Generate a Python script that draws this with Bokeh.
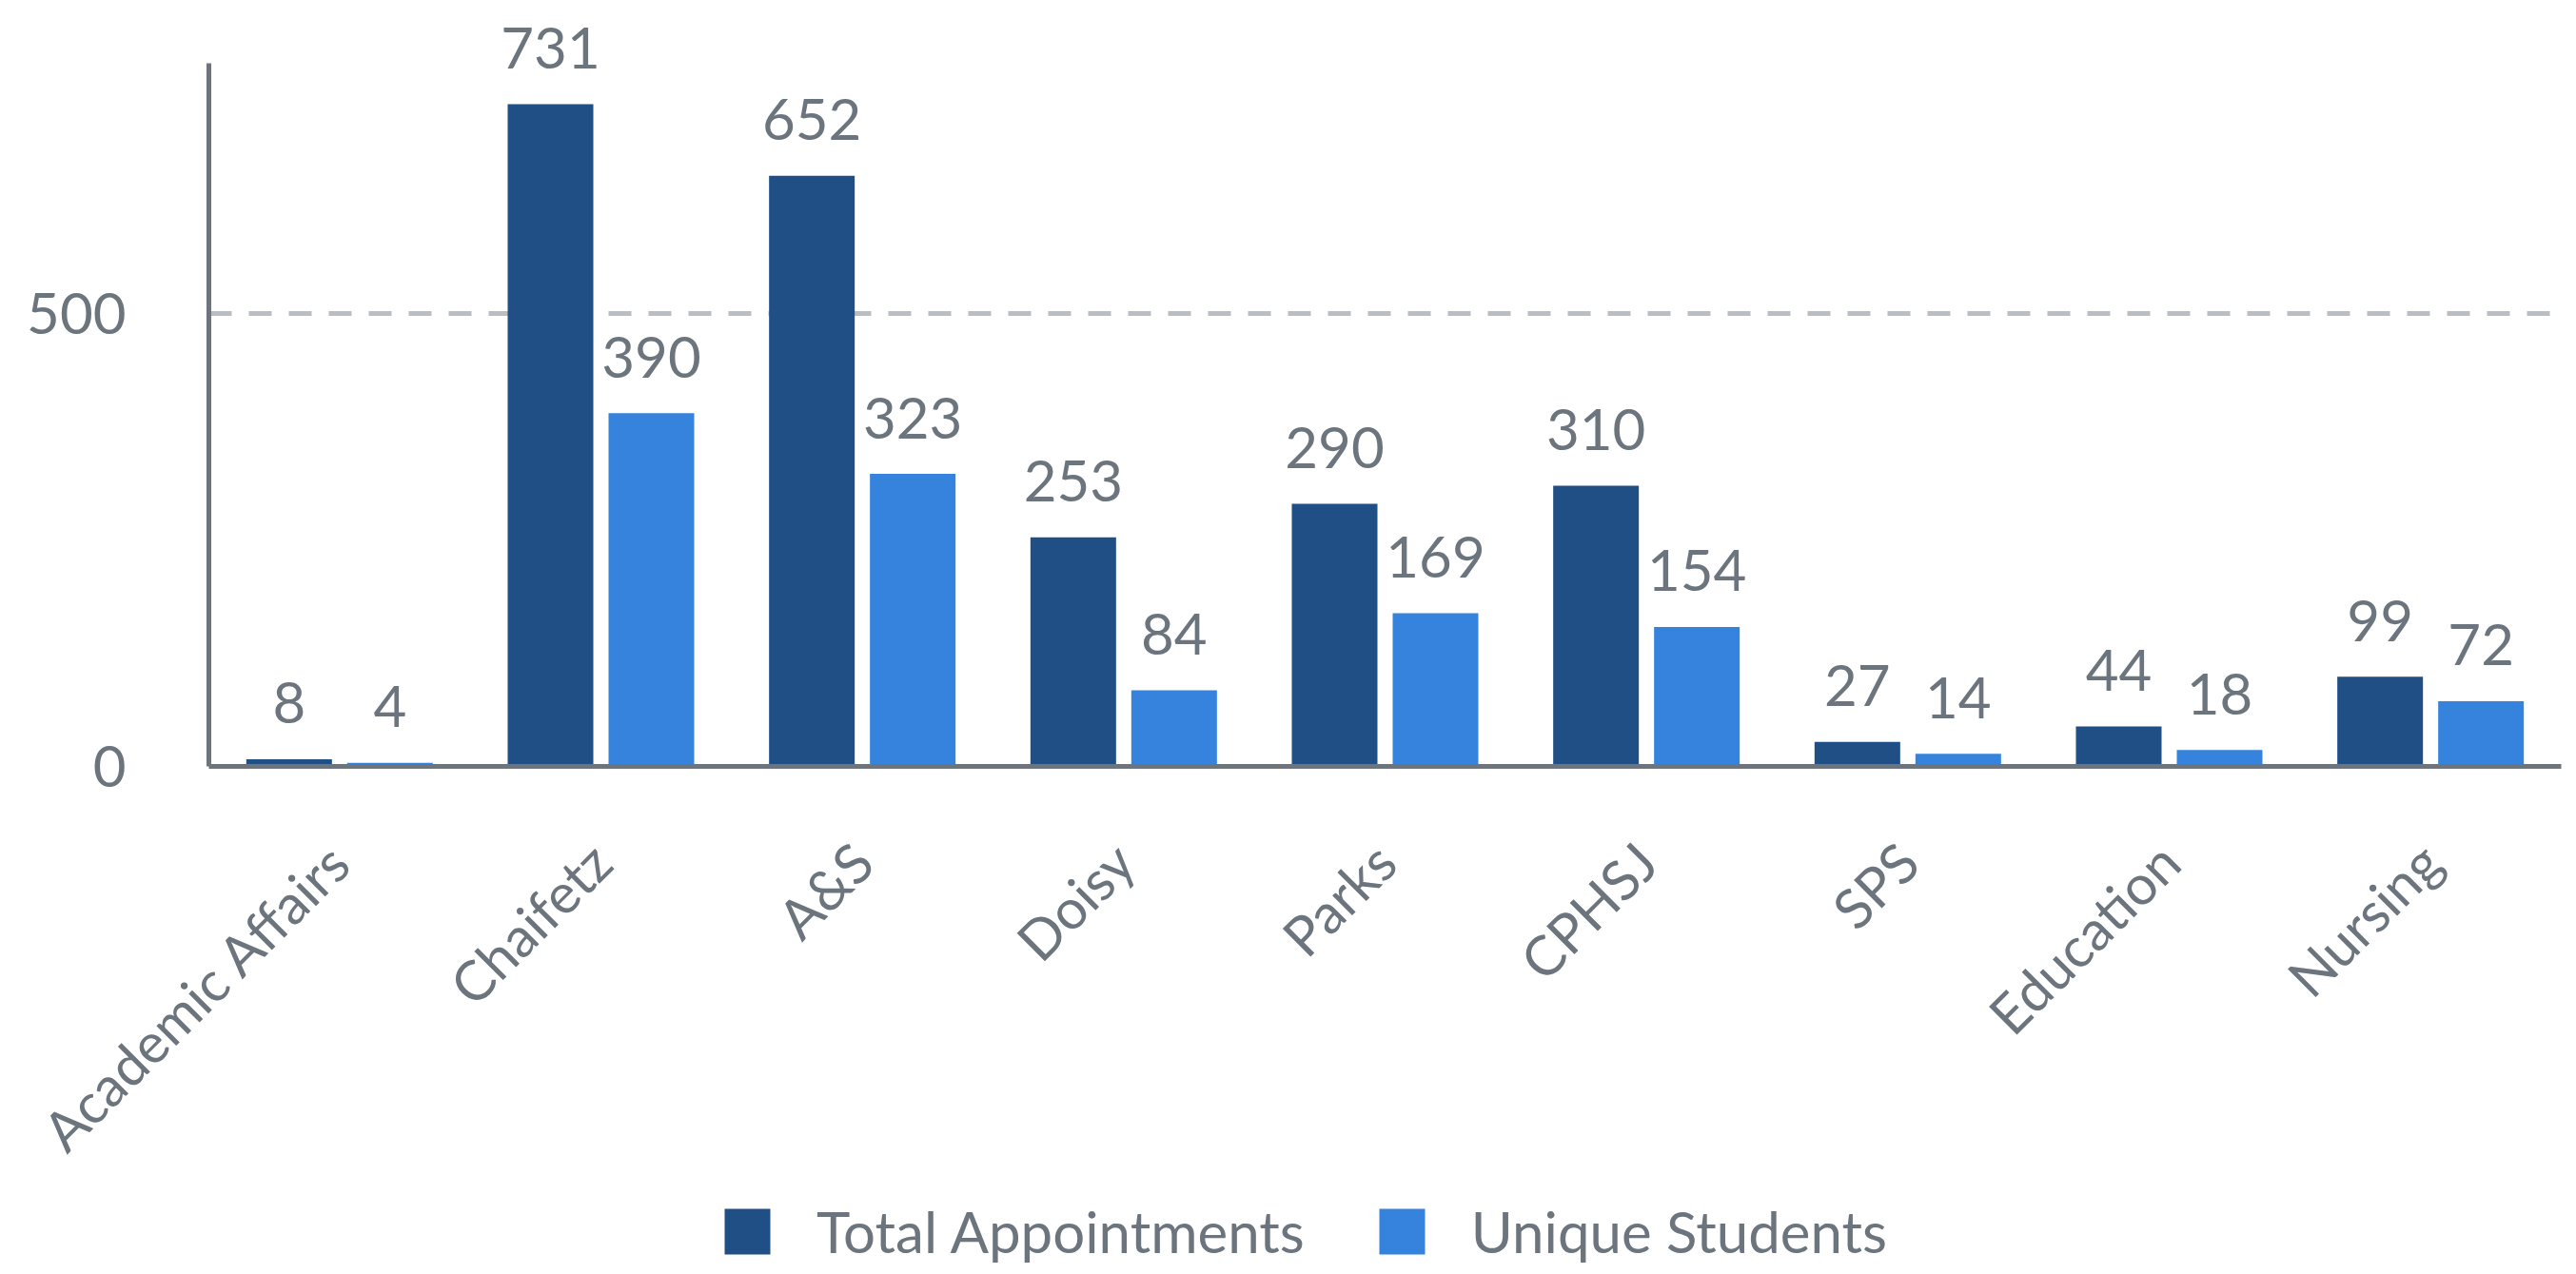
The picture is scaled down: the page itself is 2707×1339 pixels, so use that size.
import math
from bokeh.plotting import figure
from bokeh.models import (ColumnDataSource, Range1d, FixedTicker,
                          Legend, LegendItem)
from bokeh.core.properties import value
from bokeh.embed import file_html
from bokeh.resources import INLINE

categories = ["Academic Affairs", "Chaifetz", "A&S", "Doisy", "Parks",
              "CPHSJ", "SPS", "Education", "Nursing"]
total_appointments = [8, 731, 652, 253, 290, 310, 27, 44, 99]
unique_students = [4, 390, 323, 84, 169, 154, 14, 18, 72]
y_ticks = [0, 500]
grid_ticks = [500]

FONT = "Lato"
FS = "60px"
TEXT_COLOR = "#6c757d"
DARK = "#1f4f85"
LIGHT = "#3683de"

W, H = 2707, 1339
left_px, right_px = 219, 2691
top_px, zero_px = 0, 805
n = len(categories)
cat_px = (right_px - left_px) / n
offset = 53 / cat_px
bar_w = 90 / cat_px
px_per_unit = 0.952
axis_top_val = (zero_px - 66) / px_per_unit

centers = [i + 0.5 for i in range(n)]
source = ColumnDataSource(dict(
    xc=centers,
    xd=[c - offset for c in centers],
    xl=[c + offset for c in centers],
    total=total_appointments,
    unique=unique_students,
    total_lbl=[str(v) for v in total_appointments],
    unique_lbl=[str(v) for v in unique_students],
))

p = figure(
    x_range=Range1d(-left_px / cat_px, n + (W - right_px) / cat_px),
    y_range=Range1d(-(H - zero_px) / px_per_unit, (zero_px - top_px) / px_per_unit),
    width=W, height=H, frame_width=W, frame_height=H,
    min_border=0,
    output_backend="svg", toolbar_location=None,
)
p.outline_line_color = None
p.background_fill_color = "white"
p.border_fill_color = "white"
p.xgrid.grid_line_color = None
p.ygrid.grid_line_color = None

# dashed reference line at 500, limited to the plotting area
p.segment(x0=0, x1=n, y0=grid_ticks, y1=grid_ticks, line_color="#b9bec4",
          line_width=5, line_dash="24 18")

r1 = p.vbar(x="xd", top="total", width=bar_w, source=source,
            fill_color=DARK, line_color=None)
r2 = p.vbar(x="xl", top="unique", width=bar_w, source=source,
            fill_color=LIGHT, line_color=None)

for xcol, col, lbl in (("xd", "total", "total_lbl"), ("xl", "unique", "unique_lbl")):
    p.text(x=xcol, y=col, text=lbl, source=source,
           text_align="center", text_baseline="alphabetic", y_offset=-59,
           text_font=value(FONT), text_font_size=FS, text_color=TEXT_COLOR)

# y axis
p.yaxis.fixed_location = 0
p.yaxis.ticker = FixedTicker(ticks=y_ticks)
p.yaxis.bounds = (0, axis_top_val)
p.yaxis.axis_line_color = TEXT_COLOR
p.yaxis.axis_line_width = 5
p.yaxis.major_tick_line_color = None
p.yaxis.minor_tick_line_color = None
p.yaxis.major_tick_out = 0
p.yaxis.major_tick_in = 0
p.yaxis.major_label_standoff = 87
p.yaxis.major_label_text_font = FONT
p.yaxis.major_label_text_font_size = FS
p.yaxis.major_label_text_color = TEXT_COLOR

# x axis, pinned at zero
p.xaxis.fixed_location = 0
p.xaxis.bounds = (0, n)
p.xaxis.ticker = FixedTicker(ticks=centers)
p.xaxis.major_label_overrides = {c: name for c, name in zip(centers, categories)}
p.xaxis.axis_line_color = TEXT_COLOR
p.xaxis.axis_line_width = 5
p.xaxis.major_tick_line_color = None
p.xaxis.minor_tick_line_color = None
p.xaxis.major_tick_out = 0
p.xaxis.major_tick_in = 0
p.xaxis.major_label_orientation = math.pi / 4
p.xaxis.major_label_standoff = 90
p.xaxis.major_label_text_font = FONT
p.xaxis.major_label_text_font_size = "58px"
p.xaxis.major_label_text_color = TEXT_COLOR

legend = Legend(
    items=[LegendItem(label="Total Appointments", renderers=[r1]),
           LegendItem(label="Unique Students", renderers=[r2])],
    orientation="horizontal", location=(755, 9),
    glyph_width=60, glyph_height=60, label_standoff=43, spacing=72,
    label_text_font=FONT, label_text_font_size=FS,
    label_text_color=TEXT_COLOR, border_line_color=None,
    background_fill_alpha=0, padding=0, margin=0,
)
p.add_layout(legend, "center")

open("out.html", "w").write(file_html(p, INLINE))
